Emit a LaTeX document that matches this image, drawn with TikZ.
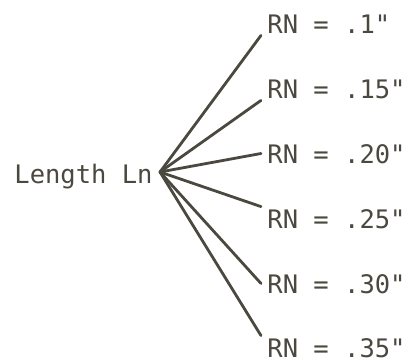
\documentclass[tikz,border=0pt]{standalone}
\usepackage{fontspec}
\newfontfamily\typefont{DejaVu Sans Mono}
\definecolor{ink}{RGB}{75,72,64}

\begin{document}
\begin{tikzpicture}[x=1pt, y=-1pt, line width=2.8pt, line cap=round, color=ink,
  every node/.style={font=\typefont\fontsize{25.5}{30}\selectfont, text height=19pt, text depth=0pt, inner ysep=1pt},
  rn/.style={anchor=base west, inner xsep=5pt}]
  \useasboundingbox (0,0) rectangle (413,362);
  % length on the left, radii on the right
  \node[anchor=east, inner xsep=6pt, text height=22pt] (len) at (160,172) {Length Ln};
  \node[rn] (r1) at (261,33) {RN = .1"};
  \node[rn] (r2) at (261,98) {RN = .15"};
  \node[rn] (r3) at (261,163) {RN = .20"};
  \node[rn] (r4) at (261,228) {RN = .25"};
  \node[rn] (r5) at (261,293) {RN = .30"};
  \node[rn] (r6) at (261,357) {RN = .35"};
  \draw (len.east) -- (r1.south west);
  \draw (len.east) -- (r2.south west);
  \draw (len.east) -- (r3.west);
  \draw (len.east) -- (r4.north west);
  \draw (len.east) -- (r5.west);
  \draw (len.east) -- (r6.north west);
\end{tikzpicture}
\end{document}
